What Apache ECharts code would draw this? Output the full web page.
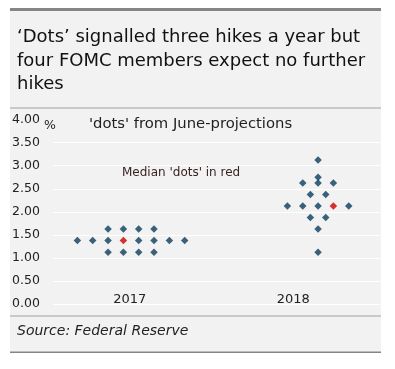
<!DOCTYPE html>
<html>
<head>
<meta charset="utf-8">
<script src="https://cdn.jsdelivr.net/npm/echarts@6/dist/echarts.min.js"></script>
<style>
html,body{margin:0;padding:0;background:#fff;}
#c{width:395px;height:369px;}
</style>
</head>
<body>
<div id="c"></div>
<script>
// ---- data ----
const years = ['2017', '2018'];
const dots2017 = [1.625, 1.625, 1.625, 1.625,
                  1.375, 1.375, 1.375, 1.375, 1.375, 1.375, 1.375, 1.375,
                  1.125, 1.125, 1.125, 1.125];
const dots2018 = [3.125, 2.75,
                  2.625, 2.625, 2.625,
                  2.375, 2.375,
                  2.125, 2.125, 2.125, 2.125, 2.125,
                  1.875, 1.875,
                  1.625, 1.125];
const medians = [1.375, 2.125];
const yTickLabels = ['0.00', '0.50', '1.00', '1.50', '2.00', '2.50', '3.00', '3.50', '4.00'];

// ---- layout helpers ----
const FONT = 'DejaVu Sans';
const yearCenters = [5.09, 17.29];   // in dot-slot units along hidden x axis
const xMax = 21.33;
const medianSlot = 3;                 // which dot in the median row is drawn red

function layout(values, center, median) {
  const groups = {};
  values.forEach(v => { (groups[v] = groups[v] || 0); groups[v]++; });
  const blue = [], red = [];
  Object.keys(groups).forEach(k => {
    const v = parseFloat(k), n = groups[k];
    for (let i = 0; i < n; i++) {
      const x = center + (i - (n - 1) / 2);
      if (v === median && i === medianSlot) red.push([x, v]);
      else blue.push([x, v]);
    }
  });
  return { blue, red };
}
const l17 = layout(dots2017, yearCenters[0], medians[0]);
const l18 = layout(dots2018, yearCenters[1], medians[1]);

const chart = echarts.init(document.getElementById('c'), null, { renderer: 'canvas' });
const option = {
  backgroundColor: '#ffffff',
  animation: false,
  textStyle: { fontFamily: FONT },
  grid: [
    { left: 53, right: 15, top: 119.6, bottom: 65, containLabel: false },
    { left: 48, right: 20, top: 119.6, bottom: 65, containLabel: false }
  ],
  xAxis: [
    { type: 'value', gridIndex: 0, min: 0, max: xMax, show: false },
    { type: 'category', gridIndex: 1, data: years,
      axisLine: { show: false }, axisTick: { show: false }, splitLine: { show: false },
      axisLabel: { inside: true, margin: -2, color: '#222', fontSize: 13, fontFamily: FONT } }
  ],
  yAxis: [
    { type: 'value', gridIndex: 0, min: 0, max: 4, interval: 0.5,
      axisLine: { show: false }, axisTick: { show: false },
      splitLine: { lineStyle: { color: ['#ffffff','#ffffff','#ffffff','#ffffff','#ffffff','#ffffff','#ffffff','#ffffff','#f2f2f2'], width: 1 } },
      axisLabel: { align: 'left', margin: 41, color: '#222', fontSize: 12.5, fontFamily: FONT,
        padding: [3, 0, 0, 0],
        formatter: (v) => yTickLabels[Math.round(v / 0.5)] } },
    { type: 'value', gridIndex: 1, min: 0, max: 4, show: false }
  ],
  series: [
    { type: 'scatter', xAxisIndex: 0, yAxisIndex: 0, symbol: 'diamond', symbolSize: 7.5,
      itemStyle: { color: '#0b3c5d' }, data: l17.blue.concat(l18.blue), z: 5 },
    { type: 'scatter', xAxisIndex: 0, yAxisIndex: 0, symbol: 'diamond', symbolSize: 7.5,
      itemStyle: { color: '#cc0000' }, data: l17.red.concat(l18.red), z: 6 }
  ],
  graphic: [
    { type: 'rect', z: -10, shape: { x: 10, y: 8, width: 371, height: 345 }, style: { fill: '#f2f2f2' } },
    { type: 'rect', z: -9, shape: { x: 10, y: 8, width: 371, height: 3 }, style: { fill: '#858585' } },
    { type: 'rect', z: -9, shape: { x: 10, y: 351.5, width: 371, height: 1.5 }, style: { fill: '#858585' } },
    { type: 'rect', z: -9, shape: { x: 10, y: 107.5, width: 371, height: 1 }, style: { fill: '#a0a0a0' } },
    { type: 'rect', z: -9, shape: { x: 10, y: 315.5, width: 371, height: 1 }, style: { fill: '#a0a0a0' } },
    { type: 'text', left: 17, top: 26, z: 10, style: {
        text: '\u2018Dots\u2019 signalled three hikes a year but\nfour FOMC members expect no further\nhikes',
        fill: '#111', fontSize: 18, fontFamily: FONT, lineHeight: 23.5 } },
    { type: 'text', left: 44, top: 119, z: 10, style: { text: '%', fill: '#222', fontSize: 12.5, fontFamily: FONT } },
    { type: 'text', left: 89, top: 117, z: 10, style: { text: '\'dots\' from June-projections', fill: '#222', fontSize: 14.8, fontFamily: FONT } },
    { type: 'text', left: 122, top: 167, z: 10, style: { text: 'Median \'dots\' in red', fill: '#3a2222', fontSize: 12, fontFamily: FONT } },
    { type: 'text', left: 17, top: 324, z: 10, style: { text: 'Source: Federal Reserve', fill: '#222', fontSize: 14, fontStyle: 'italic', fontFamily: FONT } }
  ]
};
chart.setOption(option);
</script>
</body>
</html>
